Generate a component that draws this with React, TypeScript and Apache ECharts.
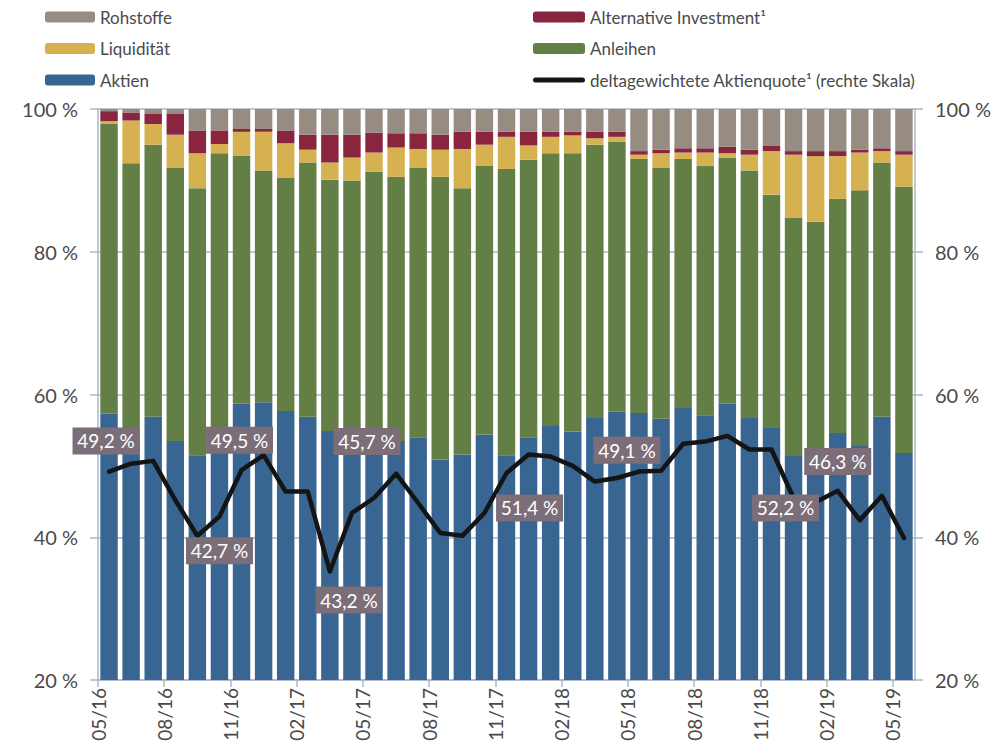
import React, { useEffect, useRef } from "react";
import * as echarts from "echarts";

const months = [
  "05/16", "06/16", "07/16", "08/16", "09/16", "10/16", "11/16", "12/16",
  "01/17", "02/17", "03/17", "04/17", "05/17", "06/17", "07/17", "08/17",
  "09/17", "10/17", "11/17", "12/17", "01/18", "02/18", "03/18", "04/18",
  "05/18", "06/18", "07/18", "08/18", "09/18", "10/18", "11/18", "12/18",
  "01/19", "02/19", "03/19", "04/19", "05/19",
];
// tick labels sit on the month boundaries (one more boundary than months)
const boundaryLabels = [...months, ""];

const aktien = [
  57.3, 53.5, 56.9, 53.5, 51.5, 53.5, 58.7, 58.9, 57.7, 56.9, 54.9, 52.5,
  53.0, 53.5, 54.0, 50.9, 51.6, 54.4, 51.5, 54.0, 55.6, 54.8, 56.7, 57.6,
  57.4, 56.6, 58.1, 57.1, 58.7, 56.7, 55.3, 51.4, 51.0, 54.6, 52.8, 56.9, 51.8,
];
const anleihen = [
  40.6, 38.9, 38.1, 38.3, 37.4, 40.3, 34.8, 32.5, 32.7, 35.6, 35.2, 37.5,
  38.2, 37.0, 37.8, 39.6, 37.3, 37.7, 40.1, 38.9, 38.2, 39.0, 38.3, 37.8,
  35.6, 35.2, 34.9, 34.9, 34.5, 34.7, 32.7, 33.4, 33.2, 32.8, 35.8, 35.6, 37.3,
];
const liquiditaet = [
  0.4, 6.0, 2.9, 4.6, 4.9, 1.3, 3.3, 5.4, 4.8, 1.8, 2.4, 3.2,
  2.7, 4.1, 2.6, 3.8, 5.5, 2.9, 4.5, 2.0, 2.3, 2.5, 0.9, 0.7,
  0.6, 2.0, 0.9, 1.9, 0.6, 2.2, 6.1, 8.8, 9.2, 6.0, 5.3, 1.6, 4.5,
];
const alternative = [
  1.4, 1.1, 1.4, 2.9, 3.2, 1.9, 0.4, 0.4, 1.8, 2.1, 3.9, 3.2,
  2.8, 2.0, 2.2, 2.1, 2.4, 1.8, 0.7, 1.9, 0.7, 0.5, 0.9, 0.7,
  0.5, 0.5, 0.6, 0.6, 0.9, 0.7, 0.8, 0.5, 0.7, 0.7, 0.4, 0.4, 0.5,
];
const rohstoffe = [
  0.3, 0.5, 0.7, 0.7, 3.0, 3.0, 2.8, 2.8, 3.0, 3.6, 3.6, 3.6,
  3.3, 3.4, 3.4, 3.6, 3.2, 3.2, 3.2, 3.2, 3.2, 3.2, 3.2, 3.2,
  5.9, 5.7, 5.5, 5.5, 5.3, 5.7, 5.1, 5.9, 5.9, 5.9, 5.7, 5.5, 5.9,
];
const deltaQuote = [
  49.2, 50.3, 50.7, 45.2, 40.2, 42.9, 49.4, 51.5, 46.4, 46.4, 35.2, 43.4,
  45.5, 48.9, 44.8, 40.6, 40.2, 43.4, 49.0, 51.6, 51.3, 50.0, 47.8, 48.3,
  49.2, 49.3, 53.1, 53.4, 54.2, 52.3, 52.3, 45.5, 44.9, 46.5, 42.4, 45.8, 39.9,
];
const yTicks = [20, 40, 60, 80, 100];

// value callouts: text, month, and the right-scale level they are pinned at
const calloutTexts = ["49,2 %", "42,7 %", "49,5 %", "43,2 %", "45,7 %", "51,4 %", "49,1 %", "52,2 %", "46,3 %"];
const calloutMonths = ["05/16", "10/16", "11/16", "04/17", "05/17", "12/17", "04/18", "12/18", "02/19"];
const calloutLevels = [53.5, 38.1, 53.6, 31.2, 53.4, 44.1, 52.2, 44.1, 50.6];
const calloutShift = [-3, 0, -2, -3, -7, 1, 10, -8, 0];

const names = {
  roh: "Rohstoffe",
  alt: "Alternative Investment\u00b9",
  liq: "Liquidit\u00e4t",
  anl: "Anleihen",
  akt: "Aktien",
  delta: "deltagewichtete Aktienquote\u00b9 (rechte Skala)",
};

const FONT = "Lato, 'Open Sans', sans-serif";
const AXIS_COLOR = "#aab6c9";
const TEXT = "#4a4a4a";
const LINE_COLOR = "#141414";

export default function App() {
  const ref = useRef<HTMLDivElement>(null);

  useEffect(() => {
    if (!ref.current) return;
    const chart = echarts.init(ref.current, undefined, { renderer: "svg" });

    const barBase = {
      type: "bar",
      stack: "total",
      xAxisIndex: 0,
      yAxisIndex: 0,
      barCategoryGap: "21%",
    };

    const legendText = { fontSize: 17, color: TEXT, fontFamily: FONT, lineHeight: 20 };

    const option: any = {
      animation: false,
      backgroundColor: "#ffffff",
      textStyle: { fontFamily: FONT },
      legend: [
        {
          orient: "vertical",
          left: 40,
          top: 2,
          itemWidth: 50,
          itemHeight: 11,
          itemGap: 11.5,
          textStyle: legendText,
          data: [names.roh, names.liq, names.akt],
        },
        {
          orient: "vertical",
          left: 528,
          top: 2,
          itemWidth: 52,
          itemHeight: 11,
          itemGap: 11.5,
          symbolKeepAspect: true,
          textStyle: legendText,
          data: [
            names.alt,
            names.anl,
            {
              name: names.delta,
              icon: "path://M2.5,0 L49.5,0 A2.5,2.5 0 0 1 49.5,5 L2.5,5 A2.5,2.5 0 0 1 2.5,0 Z",
              itemStyle: { color: LINE_COLOR },
            },
          ],
        },
      ],
      grid: { left: 98, right: 91, top: 109, bottom: 65, containLabel: false },
      xAxis: [
        {
          type: "category",
          data: months,
          show: false,
        },
        {
          type: "category",
          data: boundaryLabels,
          boundaryGap: false,
          position: "bottom",
          axisLine: { show: true, lineStyle: { color: AXIS_COLOR, width: 1.5 } },
          axisTick: { show: true, interval: 2, length: 7, lineStyle: { color: AXIS_COLOR, width: 1.5 } },
          axisLabel: {
            interval: 2,
            rotate: 90,
            margin: 8,
            fontSize: 19,
            color: TEXT,
            fontFamily: FONT,
          },
          splitLine: { show: false },
        },
      ],
      yAxis: [
        {
          type: "value",
          min: yTicks[0],
          max: yTicks[yTicks.length - 1],
          interval: 20,
          position: "left",
          axisLine: { show: true, lineStyle: { color: AXIS_COLOR, width: 1.5 } },
          axisTick: { show: true, length: 8, lineStyle: { color: AXIS_COLOR, width: 1.5 } },
          axisLabel: { formatter: "{value} %", fontSize: 20, color: TEXT, margin: 20, fontFamily: FONT },
          splitLine: { show: true, lineStyle: { color: AXIS_COLOR, width: 1.5 } },
        },
        {
          type: "value",
          min: yTicks[0],
          max: yTicks[yTicks.length - 1],
          interval: 20,
          position: "right",
          axisLine: { show: true, lineStyle: { color: AXIS_COLOR, width: 1.5 } },
          axisTick: { show: true, length: 8, lineStyle: { color: AXIS_COLOR, width: 1.5 } },
          axisLabel: { formatter: "{value} %", fontSize: 20, color: TEXT, margin: 20, fontFamily: FONT },
          splitLine: { show: false },
        },
      ],
      series: [
        { ...barBase, name: names.akt, data: aktien, itemStyle: { color: "#386592" } },
        { ...barBase, name: names.anl, data: anleihen, itemStyle: { color: "#647f46" } },
        { ...barBase, name: names.liq, data: liquiditaet, itemStyle: { color: "#d5b24f" } },
        { ...barBase, name: names.alt, data: alternative, itemStyle: { color: "#8a2540" } },
        { ...barBase, name: names.roh, data: rohstoffe, itemStyle: { color: "#968c82" } },
        {
          type: "line",
          name: names.delta,
          xAxisIndex: 0,
          yAxisIndex: 1,
          data: deltaQuote,
          symbol: "none",
          showSymbol: false,
          z: 5,
          itemStyle: { color: LINE_COLOR },
          lineStyle: { color: LINE_COLOR, width: 4.5, join: "round", cap: "round" },
          markPoint: {
            z: 10,
            silent: true,
            data: calloutTexts.map((t, i) => ({
              coord: [calloutMonths[i], calloutLevels[i]],
              symbol: "rect",
              symbolSize: [67, 27],
              symbolOffset: [calloutShift[i], 0],
              itemStyle: { color: "#7b6e79", borderWidth: 0 },
              label: {
                show: true,
                position: "inside",
                formatter: t,
                color: "#ffffff",
                fontSize: 19,
                fontFamily: FONT,
              },
            })),
          },
        },
      ],
    };

    chart.setOption(option);
    return () => chart.dispose();
  }, []);

  return (
    <div
      ref={ref}
      style={{ position: "fixed", left: 0, top: 0, width: 1006, height: 745, background: "#fff" }}
    />
  );
}
